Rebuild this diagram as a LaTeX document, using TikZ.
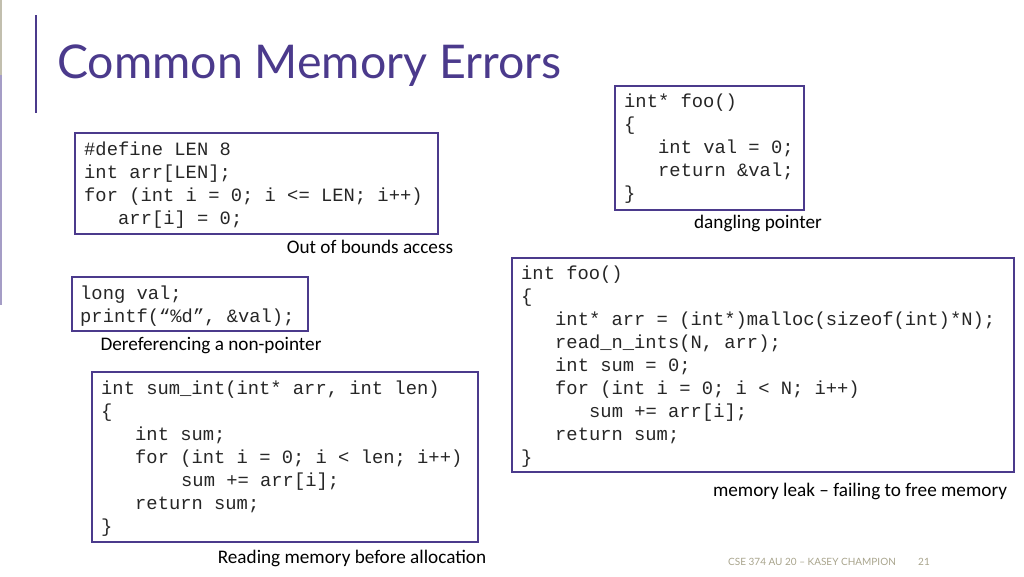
\documentclass[tikz,border=0pt]{standalone}
\usepackage{fontspec}
\setmainfont{Carlito}
\setmonofont{Liberation Mono}
\newfontfamily\titlefont{Lato}
\definecolor{pur}{HTML}{4B3A8C}
\definecolor{foot}{HTML}{A8A48C}
\definecolor{txt}{HTML}{262626}
\begin{document}
\begin{tikzpicture}[x=1pt,y=-1pt,
  cb/.style={draw=pur,line width=1.7pt},
  code/.style={anchor=base west,inner sep=0,text=txt,font=\fontsize{18.8}{23}\ttfamily},
  lab/.style={anchor=base,inner sep=0,font=\fontsize{19.2}{22}\selectfont}]
\useasboundingbox (0,0) rectangle (1024,576);
\fill[foot!70] (0,0) rectangle (2,75);
\fill[pur!50] (0,75) rectangle (2,305);
\draw[pur,line width=1.5pt] (36,15) -- (36,113);
\node[anchor=base west,inner sep=0,text=pur,font=\fontsize{46.5}{52}\titlefont] (title) at (57,78) {Common Memory Errors};
% box1
\draw[cb] (75,133) rectangle (438,234);
\node[code] (a1) at (84,155) {\#define LEN 8};
\node[code] (a2) at (84,178) {int arr[LEN];};
\node[code] (a3) at (84,201) {for (int i = 0; i <= LEN; i++)};
\node[code] (a4) at (118,224) {arr[i] = 0;};
\node[lab] (l1) at (370,253) {Out of bounds access};
% box2
\draw[cb] (615,86) rectangle (804,210);
\node[code] (b1) at (624,107) {int* foo()};
\node[code] (b2) at (624,130) {\{};
\node[code] (b3) at (658,153) {int val = 0;};
\node[code] (b4) at (658,176) {return \&val;};
\node[code] (b5) at (624,199) {\}};
\node[lab] (l2) at (758,228) {dangling pointer};
% box3
\draw[cb] (72,277) rectangle (308,331);
\node[code] (c1) at (80,299) {long val;};
\node[code] (c2) at (80,322) {printf(“\%d”, \&val);};
\node[lab] (l3) at (211,350) {Dereferencing a non-pointer};
% box4
\draw[cb] (92,372) rectangle (478,542);
\node[code] (d1) at (101,394) {int sum\_int(int* arr, int len)};
\node[code] (d2) at (101,417) {\{};
\node[code] (d3) at (135,440) {int sum;};
\node[code] (d4) at (135,463) {for (int i = 0; i < len; i++)};
\node[code] (d5) at (181,486) {sum += arr[i];};
\node[code] (d6) at (135,509) {return sum;};
\node[code] (d7) at (101,532) {\}};
\node[lab] (l4) at (352,563) {Reading memory before allocation};
% box5
\draw[cb] (512,258) rectangle (1014,472);
\node[code] (e1) at (521,279) {int foo()};
\node[code] (e2) at (521,302) {\{};
\node[code] (e3) at (555,325) {int* arr = (int*)malloc(sizeof(int)*N);};
\node[code] (e4) at (555,348) {read\_n\_ints(N, arr);};
\node[code] (e5) at (555,371) {int sum = 0;};
\node[code] (e6) at (555,394) {for (int i = 0; i < N; i++)};
\node[code] (e7) at (589,417) {sum += arr[i];};
\node[code] (e8) at (555,440) {return sum;};
\node[code] (e9) at (521,463) {\}};
\node[lab] (l5) at (860,496) {memory leak – failing to free memory};
% footer
\node[anchor=base west,inner sep=0,text=foot,font=\fontsize{10}{11}\titlefont] (f1) at (728,565) {CSE 374 AU 20 – KASEY CHAMPION};
\node[anchor=base west,inner sep=0,text=foot,font=\fontsize{10}{11}\titlefont] (f2) at (918,565) {21};
\end{tikzpicture}
\end{document}
